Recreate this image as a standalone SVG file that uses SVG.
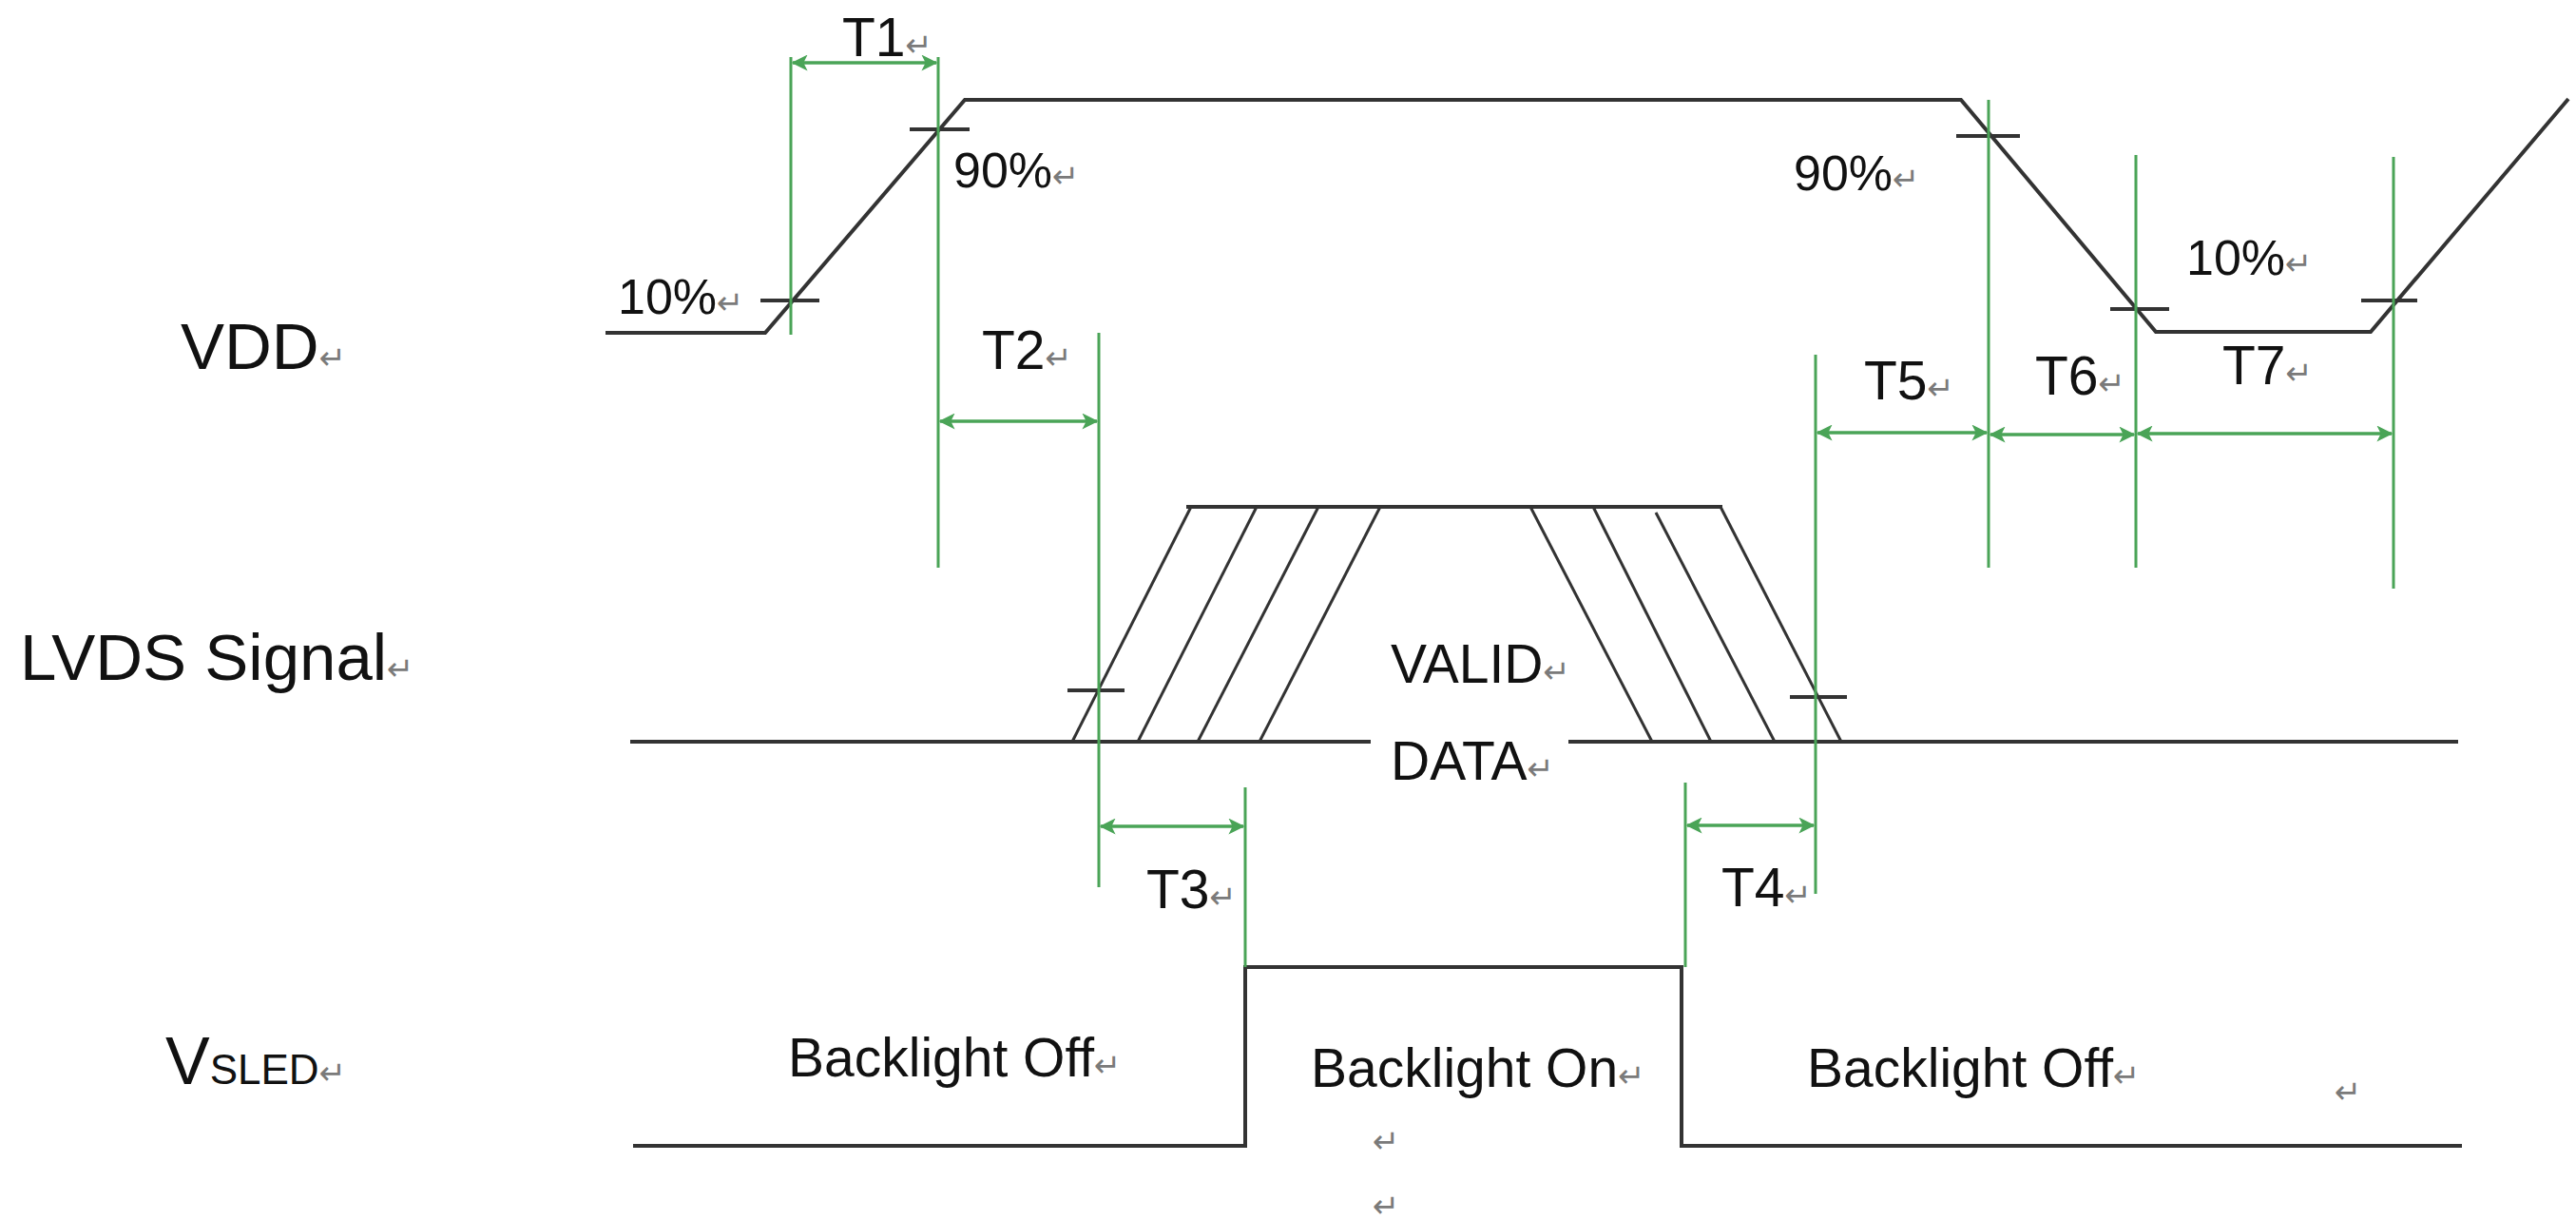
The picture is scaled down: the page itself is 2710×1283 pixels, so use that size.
<svg xmlns="http://www.w3.org/2000/svg" width="2710" height="1283" viewBox="0 0 2710 1283">
  <style>
    .wave { fill: none; stroke: #333333; stroke-width: 4; stroke-linejoin: miter; }
    .slant { fill: none; stroke: #333333; stroke-width: 3; }
    .tick { stroke: #333333; stroke-width: 4; }
    .guide { stroke: #4aa457; stroke-width: 3; fill: none; }
    .dim { stroke: #4aa457; stroke-width: 3.5; fill: none; marker-start: url(#ah); marker-end: url(#ah); }
    .lbl { font-family: "Liberation Sans", Arial, sans-serif; fill: #111111; }
    .big { font-size: 69px; }
    .mid { font-size: 57px; }
    .pct { font-size: 52px; }
    .ret { font-family: "DejaVu Sans", sans-serif; font-size: 34px; fill: #7a7a7a; }
  </style>
  <defs>
    <marker id="ah" viewBox="0 0 12 12" refX="11" refY="6" markerWidth="17" markerHeight="17" markerUnits="userSpaceOnUse" orient="auto-start-reverse">
      <path d="M0,0 L12,6 L0,12 L3,6 z" fill="#4aa457"/>
    </marker>
  </defs>
  <rect width="2710" height="1283" fill="#ffffff"/>

  <!-- Signal names -->
  <g id="label-vdd">
    <text class="lbl big" x="190" y="388">VDD<tspan class="ret">↵</tspan></text>
  </g>
  <g id="label-lvds">
    <text class="lbl big" x="21" y="715">LVDS Signal<tspan class="ret">↵</tspan></text>
  </g>
  <g id="label-vsled">
    <text class="lbl" x="174" y="1140"><tspan font-size="70">V</tspan><tspan font-size="44">SLED</tspan><tspan class="ret">↵</tspan></text>
  </g>

  <!-- VDD waveform -->
  <g id="vdd-wave">
    <polyline class="wave" points="637,350 805,350 1015,105 2063,105 2268,349 2494,349 2702,104"/>
    <line class="tick" x1="800" y1="316" x2="862" y2="316"/>
    <line class="tick" x1="957" y1="136" x2="1020" y2="136"/>
    <line class="tick" x1="2058" y1="143" x2="2125" y2="143"/>
    <line class="tick" x1="2220" y1="325" x2="2282" y2="325"/>
    <line class="tick" x1="2484" y1="316" x2="2543" y2="316"/>
    <text class="lbl pct" x="650" y="330">10%<tspan class="ret">↵</tspan></text>
    <text class="lbl pct" x="1003" y="197">90%<tspan class="ret">↵</tspan></text>
    <text class="lbl pct" x="1887" y="200">90%<tspan class="ret">↵</tspan></text>
    <text class="lbl pct" x="2300" y="289">10%<tspan class="ret">↵</tspan></text>
  </g>

  <!-- LVDS waveform -->
  <g id="lvds-wave">
    <line class="wave" x1="663" y1="780" x2="1442" y2="780"/>
    <line class="wave" x1="1650" y1="780" x2="2586" y2="780"/>
    <line class="wave" x1="1248" y1="533" x2="1812" y2="533"/>
    <line class="slant" x1="1253" y1="533" x2="1128" y2="780"/>
    <line class="slant" x1="1322" y1="533" x2="1197" y2="780"/>
    <line class="slant" x1="1387" y1="533" x2="1260" y2="780"/>
    <line class="slant" x1="1452" y1="533" x2="1325" y2="780"/>
    <line class="slant" x1="1610" y1="533" x2="1738" y2="780"/>
    <line class="slant" x1="1676" y1="533" x2="1800" y2="780"/>
    <line class="slant" x1="1742" y1="539" x2="1867" y2="780"/>
    <line class="slant" x1="1810" y1="533" x2="1937" y2="780"/>
    <line class="tick" x1="1123" y1="726" x2="1183" y2="726"/>
    <line class="tick" x1="1883" y1="733" x2="1943" y2="733"/>
    <text class="lbl mid" x="1463" y="718">VALID<tspan class="ret">↵</tspan></text>
    <text class="lbl mid" x="1463" y="820">DATA<tspan class="ret">↵</tspan></text>
  </g>

  <!-- VSLED waveform -->
  <g id="vsled-wave">
    <polyline class="wave" points="666,1205 1310,1205 1310,1017 1769,1017 1769,1205 2590,1205"/>
    <text class="lbl mid" x="829" y="1132">Backlight Off<tspan class="ret">↵</tspan></text>
    <text class="lbl mid" x="1379" y="1143">Backlight On<tspan class="ret">↵</tspan></text>
    <text class="lbl mid" x="1901" y="1143">Backlight Off<tspan class="ret">↵</tspan></text>
    <text class="ret" x="1444" y="1212">↵</text>
    <text class="ret" x="1444" y="1280">↵</text>
    <text class="ret" x="2456" y="1160">↵</text>
  </g>

  <!-- Timing guides and dimension arrows -->
  <g id="connectors">
    <line class="guide" x1="832" y1="60" x2="832" y2="352"/>
    <line class="guide" x1="987" y1="60" x2="987" y2="597"/>
    <line class="guide" x1="1156" y1="350" x2="1156" y2="933"/>
    <line class="guide" x1="1310" y1="828" x2="1310" y2="1017"/>
    <line class="guide" x1="1773" y1="823" x2="1773" y2="1017"/>
    <line class="guide" x1="1910" y1="373" x2="1910" y2="940"/>
    <line class="guide" x1="2092" y1="105" x2="2092" y2="597"/>
    <line class="guide" x1="2247" y1="163" x2="2247" y2="597"/>
    <line class="guide" x1="2518" y1="165" x2="2518" y2="619"/>

    <line class="dim" x1="834" y1="66" x2="985" y2="66"/>
    <line class="dim" x1="989" y1="443" x2="1154" y2="443"/>
    <line class="dim" x1="1158" y1="869" x2="1308" y2="869"/>
    <line class="dim" x1="1775" y1="868" x2="1908" y2="868"/>
    <line class="dim" x1="1912" y1="455" x2="2090" y2="455"/>
    <line class="dim" x1="2094" y1="457" x2="2245" y2="457"/>
    <line class="dim" x1="2249" y1="456" x2="2516" y2="456"/>
  </g>

  <!-- Timing labels -->
  <g id="timing-labels">
    <text class="lbl mid" x="886" y="59">T1<tspan class="ret">↵</tspan></text>
    <text class="lbl mid" x="1033" y="388">T2<tspan class="ret">↵</tspan></text>
    <text class="lbl mid" x="1206" y="955">T3<tspan class="ret">↵</tspan></text>
    <text class="lbl mid" x="1811" y="953">T4<tspan class="ret">↵</tspan></text>
    <text class="lbl mid" x="1961" y="420">T5<tspan class="ret">↵</tspan></text>
    <text class="lbl mid" x="2141" y="415">T6<tspan class="ret">↵</tspan></text>
    <text class="lbl mid" x="2338" y="404">T7<tspan class="ret">↵</tspan></text>
  </g>
</svg>
